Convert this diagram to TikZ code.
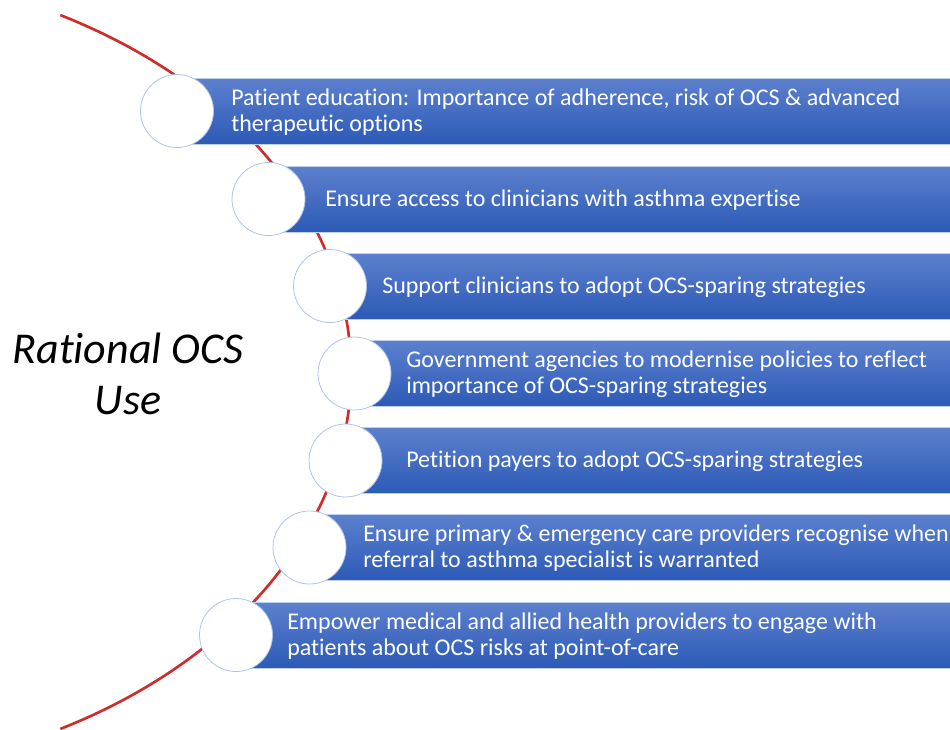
\documentclass[tikz,border=0pt]{standalone}
\usepackage{fontspec}
\setmainfont{Carlito}[Ligatures=NoCommon]
\usetikzlibrary{calc}
\definecolor{arcred}{RGB}{205,45,45}
\definecolor{bandtop}{RGB}{92,128,206}
\definecolor{bandbot}{RGB}{44,90,182}
\definecolor{ringline}{RGB}{175,196,234}
\tikzstyle{band}=[top color=bandtop, bottom color=bandbot, draw=ringline!80, line width=0.4pt]
\tikzstyle{ring}=[circle, fill=white, draw=ringline, line width=0.6pt, minimum size=54.75pt, inner sep=0pt]
\tikzstyle{lbl}=[text=white, anchor=west, align=left, inner sep=0pt, font=\fontsize{18}{19.5}\selectfont]

\begin{document}
\begin{tikzpicture}[x=0.75pt,y=-0.75pt]
  \useasboundingbox (0,0) rectangle (950,729);
  % the red arc behind everything
  \draw[arcred, line width=2pt] ({-200+551*cos(61.8)},{372-405*sin(61.8)})
    arc[start angle=61.8, end angle=-61.8, x radius=413.25pt, y radius=303.75pt];
  % bands
  \path[band] (177,78) rectangle (950,144);
  \path[band] (268.5,166) rectangle (950,232);
  \path[band] (330,253) rectangle (950,319);
  \path[band] (354.5,340.5) rectangle (950,406.5);
  \path[band] (345.5,427.5) rectangle (950,493.5);
  \path[band] (309.5,514.5) rectangle (950,580.5);
  \path[band] (236,602) rectangle (950,668);
  % circles
  \node[ring] (c1) at (177,111) {};
  \node[ring] (c2) at (268.5,199) {};
  \node[ring] (c3) at (330,286) {};
  \node[ring] (c4) at (354.5,373.5) {};
  \node[ring] (c5) at (345.5,460.5) {};
  \node[ring] (c6) at (309.5,547.5) {};
  \node[ring] (c7) at (236,635) {};
  % texts
  \node[lbl] (t1) at (231,112) {Patient education: Importance of adherence, risk of OCS \& advanced\\therapeutic options};
  \node[lbl] (t2) at (325,200) {Ensure access to clinicians with asthma expertise};
  \node[lbl] (t3) at (382,287) {Support clinicians to adopt OCS-sparing strategies};
  \node[lbl] (t4) at (406,374.5) {Government agencies to modernise policies to reflect\\importance of OCS-sparing strategies};
  \node[lbl] (t5) at (406,461.5) {Petition payers to adopt OCS-sparing strategies};
  \node[lbl] (t6) at (363,548.5) {Ensure primary \& emergency care providers recognise when\\referral to asthma specialist is warranted};
  \node[lbl] (t7) at (287,636) {Empower medical and allied health providers to engage with\\patients about OCS risks at point-of-care};
  \node[font=\fontsize{33}{38}\selectfont\itshape, align=center] (title) at (128,374) {Rational OCS\\Use};
\end{tikzpicture}
\end{document}
